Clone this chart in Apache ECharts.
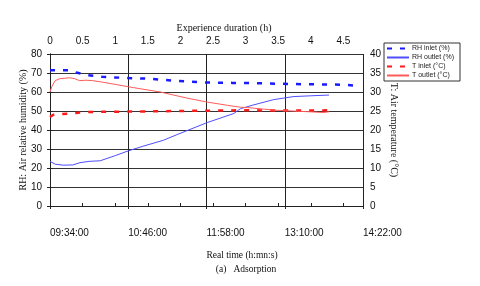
<!DOCTYPE html>
<html><head><meta charset="utf-8">
<script src="https://cdn.jsdelivr.net/npm/echarts@6/dist/echarts.min.js"></script>
<style>html,body{margin:0;padding:0;background:#fff}#c{width:480px;height:286px}</style>
</head><body><div id="c"></div>
<script>
// Data (x in hours of experience duration)
const startMinutes = 9 * 60 + 34; // 09:34:00
const timeTickHours = [0, 1.2, 2.4, 3.6, 4.8];
const rhInletHours = [0, 0.3, 0.4, 0.55, 0.8, 1.1, 1.5, 1.9, 2.4, 2.8, 3.2, 3.7, 4.2, 4.5, 4.75];
const rhInletValues = [71.5, 71.5, 70.3, 69, 68, 67.5, 67, 66, 65, 64.8, 64.6, 64.2, 64, 63.8, 63.2];
const rhOutletHours = [0, 0.08, 0.2, 0.35, 0.46, 0.6, 0.77, 1.0, 1.2, 1.43, 1.74, 1.95, 2.41, 2.82, 2.92, 3.1, 3.43, 3.74, 4.0, 4.28];
const rhOutletValues = [23.5, 22, 21.5, 21.6, 22.8, 23.5, 23.8, 26.5, 29, 31.5, 34.6, 37.6, 43.9, 48.7, 51.2, 53, 56, 57.6, 58, 58.4];
const tInletHours = [0, 0.05, 0.2, 0.4, 0.55, 0.8, 1.0, 1.5, 2.0, 2.5, 3.0, 3.5, 4.0, 4.3];
const tInletValues = [23.4, 24, 24.2, 24.5, 24.7, 24.8, 24.8, 24.9, 25, 25.1, 25.2, 25.1, 25.1, 25.2];
const tOutletHours = [0, 0.03, 0.08, 0.15, 0.3, 0.38, 0.45, 0.48, 0.55, 0.65, 0.8, 1.0, 1.28, 1.69, 2.1, 2.41, 2.72, 2.92, 3.03, 3.46, 3.85, 4.2, 4.28];
const tOutletValues = [30, 31.5, 33, 33.5, 33.75, 33.5, 33, 32.65, 33.1, 33, 32.6, 32, 31.15, 30, 28.4, 27.35, 26.5, 26, 25.9, 25.2, 24.9, 24.6, 24.8];
const seriesNames = ['RH inlet (%)', 'RH outlet (%)', 'T inlet (\u00b0C)', 'T outlet (\u00b0C)'];

const zip = (xs, ys) => xs.map((x, i) => [x, ys[i]]);
function fmtTime(h) {
  const m = Math.round(startMinutes + h * 60);
  const hh = String(Math.floor(m / 60)).padStart(2, '0');
  const mm = String(m % 60).padStart(2, '0');
  return hh + ':' + mm + ':00';
}
const sans = 'Liberation Sans, Arial, sans-serif';
const serif = 'Liberation Serif, Times New Roman, serif';

const chart = echarts.init(document.getElementById('c'), null, {renderer: 'canvas'});
chart.setOption({
  animation: false,
  grid: {left: 50, right: 117, top: 54, bottom: 80},
  legend: {
    orient: 'vertical', left: 384, top: 43,
    padding: [2, 6, 2, 2], itemGap: 2, itemWidth: 22, itemHeight: 7,
    borderColor: '#333', borderWidth: 1,
    itemStyle: {opacity: 0, color: 'transparent', borderWidth: 0},
    textStyle: {fontFamily: sans, fontSize: 7, color: '#222', padding: [0, 0, 0, -2]},
    data: seriesNames
  },
  xAxis: [{
    type: 'value', position: 'bottom', min: 0, max: 4.8, interval: 1.2,
    axisLine: {show: true, onZero: false, lineStyle: {color: '#222', width: 1}},
    axisTick: {show: true, length: 3, lineStyle: {color: '#222'}},
    axisLabel: {margin: 22, align: 'left', fontFamily: sans, fontSize: 10, color: '#111',
      formatter: v => fmtTime(v)},
    splitLine: {show: true, lineStyle: {color: '#222', width: 1}}
  }, {
    type: 'value', position: 'top', min: 0, max: 4.8, interval: 0.5,
    axisLine: {show: true, lineStyle: {color: '#222', width: 1}},
    axisTick: {show: true, length: 3, lineStyle: {color: '#222'}},
    axisLabel: {margin: 8, fontFamily: sans, fontSize: 10, color: '#111', showMaxLabel: false,
      formatter: v => String(Math.round(v * 10) / 10)},
    splitLine: {show: false}
  }],
  yAxis: [{
    type: 'value', min: 0, max: 80, interval: 10, position: 'left',
    name: 'RH: Air relative humidity (%)', nameLocation: 'middle', nameGap: 22, nameRotate: 90,
    nameMoveOverlap: false,
    nameTextStyle: {fontFamily: serif, fontSize: 10, color: '#111'},
    axisLine: {show: true, lineStyle: {color: '#222', width: 1}},
    axisTick: {show: true, length: 3, lineStyle: {color: '#222'}},
    axisLabel: {margin: 8, fontFamily: sans, fontSize: 10, color: '#111'},
    splitLine: {show: true, lineStyle: {color: '#333', width: 1}}
  }, {
    type: 'value', min: 0, max: 40, interval: 5, position: 'right',
    name: 'T: Air temperature (\u00b0C)', nameLocation: 'middle', nameGap: 26, nameRotate: -90,
    nameMoveOverlap: false,
    nameTextStyle: {fontFamily: serif, fontSize: 10, color: '#111', padding: [0, 0, 0, 0]},
    axisLine: {show: true, lineStyle: {color: '#222', width: 1}},
    axisTick: {show: true, length: 3, lineStyle: {color: '#222'}},
    axisLabel: {margin: 7, fontFamily: sans, fontSize: 10, color: '#111'},
    splitLine: {show: false}
  }],
  graphic: [
    {type: 'text', style: {text: 'Experience duration (h)', x: 224, y: 28, align: 'center', verticalAlign: 'middle', font: '10px ' + serif, fill: '#111'}},
    {type: 'text', style: {text: 'Real time (h:mn:s)', x: 242, y: 255, align: 'center', verticalAlign: 'middle', font: '9.5px ' + serif, fill: '#111'}},
    {type: 'text', style: {text: '(a)   Adsorption', x: 246, y: 269, align: 'center', verticalAlign: 'middle', font: '9.5px ' + serif, fill: '#111'}}
  ],
  series: [
    {name: seriesNames[0], type: 'line', xAxisIndex: 0, yAxisIndex: 0, showSymbol: false, symbol: 'none',
      data: zip(rhInletHours, rhInletValues),
      lineStyle: {color: '#1a1aff', width: 2.5, type: [5, 8]}, itemStyle: {color: '#1a1aff'}},
    {name: seriesNames[1], type: 'line', xAxisIndex: 0, yAxisIndex: 0, showSymbol: false, symbol: 'none',
      data: zip(rhOutletHours, rhOutletValues),
      lineStyle: {color: '#4d4dff', width: 1}, itemStyle: {color: '#4d4dff'}},
    {name: seriesNames[2], type: 'line', xAxisIndex: 0, yAxisIndex: 1, showSymbol: false, symbol: 'none',
      data: zip(tInletHours, tInletValues),
      lineStyle: {color: '#ff1a1a', width: 2.5, type: [5, 8]}, itemStyle: {color: '#ff1a1a'}},
    {name: seriesNames[3], type: 'line', xAxisIndex: 0, yAxisIndex: 1, showSymbol: false, symbol: 'none',
      data: zip(tOutletHours, tOutletValues),
      lineStyle: {color: '#ff5a5a', width: 1}, itemStyle: {color: '#ff5a5a'}}
  ]
});
</script></body></html>
